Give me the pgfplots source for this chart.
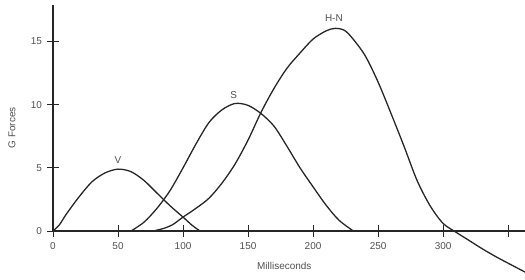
\documentclass[border=0pt]{standalone}
\usepackage{pgfplots}
\pgfplotsset{compat=1.18}
\usepackage{fontspec}
\setmainfont{Liberation Sans}
\definecolor{txt}{HTML}{505050}
\begin{document}
\begin{tikzpicture}
\begin{axis}[
  scale only axis,
  width=472bp, height=226bp,
  xmin=0, xmax=363, ymin=0, ymax=17.9,
  clip=false,
  axis x line=bottom, axis y line=left,
  axis line style={line width=1.1pt, color=black!85, -},
  xtick={0,50,100,150,200,250,300,350},
  xticklabels={0,50,100,150,200,250,300,},
  ytick={0,5,10,15},
  tick align=center,
  major tick length=11bp,
  tick style={line width=1pt, color=black!85},
  ticklabel style={font=\fontsize{10}{12}\selectfont, text=txt},
  xticklabel style={yshift=-3bp},
  yticklabel style={xshift=-2bp},
  /pgf/number format/assume math mode=true,
  xlabel={Milliseconds},
  ylabel={G Forces},
  label style={font=\fontsize{10}{12}\selectfont, text=txt},
  xlabel style={at={(axis description cs:0.49,0)}, anchor=center, yshift=-35bp},
  ylabel style={at={(axis description cs:-0.087,0.456)}, anchor=center},
]
\addplot[smooth, line width=1.3pt, black!85] coordinates {
 (0,0) (5,0.5) (10,1.3) (20,2.7) (30,3.9) (40,4.6) (50,4.9) (60,4.7) (70,4.0) (80,3.0) (90,2.0) (100,1.1) (107,0.45) (113,0)
};
\addplot[smooth, line width=1.3pt, black!85] coordinates {
 (60,0) (70,0.7) (80,1.8) (90,3.2) (100,5.0) (110,6.9) (120,8.6) (130,9.6) (140,10.1) (150,9.95) (160,9.3) (170,8.3) (180,6.7) (190,5.0) (200,3.5) (210,2.05) (220,0.85) (231,0)
};
\addplot[smooth, line width=1.3pt, black!85] coordinates {
 (77,0) (85,0.2) (92,0.5) (100,1.1) (110,1.8) (120,2.6) (130,3.8) (140,5.3) (150,7.2) (160,9.4) (170,11.3) (180,12.9) (190,14.1) (200,15.2) (210,15.85) (217,16.05) (224,15.9) (230,15.3) (240,13.9) (250,11.8) (260,9.3) (270,6.7) (280,4.0) (290,2.0) (300,0.6) (310,-0.1) (320,-0.75) (330,-1.4) (340,-2.0) (350,-2.55) (363,-3.25)
};
\node[font=\fontsize{10}{12}\selectfont, text=txt] at (axis cs:50,5.6) {V};
\node[font=\fontsize{10}{12}\selectfont, text=txt] at (axis cs:139,10.8) {S};
\node[font=\fontsize{10}{12}\selectfont, text=txt] at (axis cs:216,16.9) {H-N};
\coordinate (bl) at (rel axis cs:0,0);
\coordinate (tr) at (rel axis cs:1,1);
\end{axis}
\pgfresetboundingbox
\path ([shift={(-53bp,-49bp)}]bl) rectangle ([shift={(0bp,5bp)}]tr);
\end{tikzpicture}
\end{document}
